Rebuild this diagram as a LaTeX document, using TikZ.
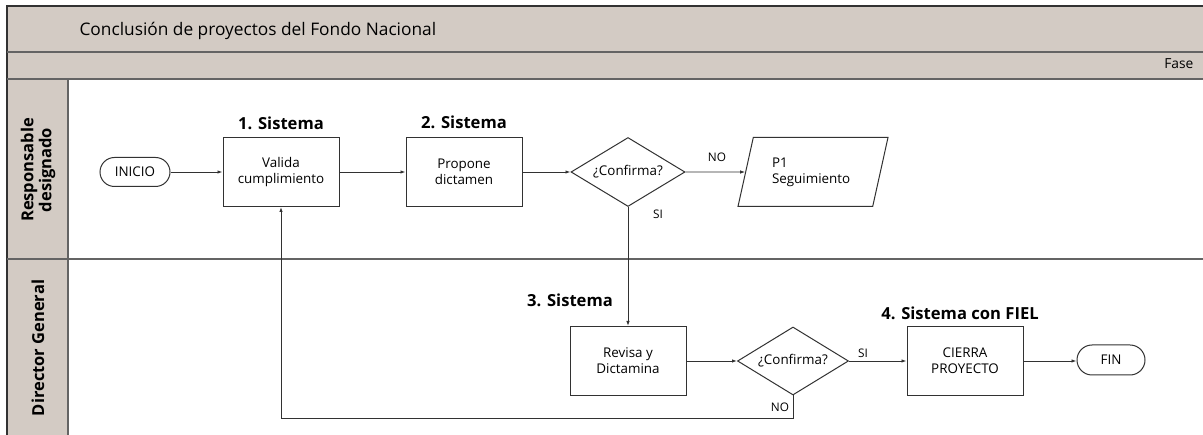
\documentclass[tikz,border=0pt]{standalone}
\usepackage{fontspec}
\setmainfont{Open Sans}
\usetikzlibrary{shapes.geometric,arrows.meta}
\definecolor{bandfill}{RGB}{211,203,196}
\definecolor{laneline}{RGB}{100,100,100}
\definecolor{flowline}{RGB}{50,50,50}

\begin{document}
\begin{tikzpicture}[x=1pt, y=-1pt,
  procbox/.style={draw=flowline, line width=1pt, minimum width=116pt, minimum height=69pt,
    align=center, inner sep=2pt, font=\fontsize{13.4}{16}\selectfont},
  decision/.style={diamond, draw=flowline, line width=1pt, aspect=1.65, minimum width=114pt,
    minimum height=69pt, inner sep=0pt, font=\fontsize{13.4}{16}\selectfont},
  terminal/.style={draw=flowline, line width=1pt, rounded corners=14.5pt, minimum width=70pt,
    minimum height=29pt, inner sep=2pt, font=\fontsize{13.4}{16}\selectfont},
  tasklabel/.style={font=\bfseries\fontsize{16.6}{19}\selectfont},
  edgelabel/.style={font=\fontsize{11.8}{14}\selectfont},
  flow/.style={draw=flowline, line width=0.9pt, -{Latex[length=5pt,width=3.5pt]}}]
\useasboundingbox (0,0) rectangle (1203,435);

% Bands and lanes
\fill[white] (0,0) rectangle (1203,435);
\fill[bandfill] (7,6) rectangle (1203,79);
\fill[bandfill] (7,79) rectangle (68,435);
\draw[line width=2pt, flowline] (7,435) -- (7,6) -- (1203,6);
\draw[line width=1.8pt, laneline] (7,52) -- (1203,52);
\draw[line width=1.8pt, laneline] (7,79) -- (1203,79);
\draw[line width=1.6pt, laneline] (68,79) -- (68,435);
\draw[line width=1.6pt, laneline] (7,259) -- (1203,259);
\node[anchor=west, font=\fontsize{17.3}{20}\selectfont] (title) at (76,31) {Conclusión de proyectos del Fondo Nacional};
\node[anchor=east, font=\fontsize{13.8}{16}\selectfont] (fase) at (1197,64) {Fase};
\node[rotate=90, align=center, font=\bfseries\fontsize{16.5}{18}\selectfont] (resp) at (38,170) {Responsable\\designado};
\node[rotate=90, font=\bfseries\fontsize{16.5}{18}\selectfont] (dirgen) at (38,348) {Director General};

% Lane 1
\node[terminal] (inicio) at (135,172) {INICIO};
\node[procbox] (valida) at (281,172) {Valida\\cumplimiento};
\node[procbox] (propone) at (464,172) {Propone\\dictamen};
\node[decision] (conf1) at (628,172) {¿Confirma?};
\node[trapezium, trapezium left angle=62, trapezium right angle=118, trapezium stretches body,
  draw=flowline, line width=1pt, minimum width=150pt, minimum height=69pt, inner sep=0pt,
  text width=82pt, align=left, font=\fontsize{13.4}{16}\selectfont] (p1) at (813,172) {P1\\Seguimiento};
\node[tasklabel] (lab1) at (281,123) {1. Sistema};
\node[tasklabel] (lab2) at (464,122) {2. Sistema};

% Lane 2
\node[procbox] (revisa) at (628,361) {Revisa y\\Dictamina};
\node[decision, minimum width=111pt, minimum height=68pt] (conf2) at (793,361) {¿Confirma?};
\node[procbox] (cierra) at (965,361) {CIERRA\\PROYECTO};
\node[terminal, minimum width=68pt, minimum height=30pt, rounded corners=15pt] (fin) at (1111,360) {FIN};
\node[tasklabel] (lab3) at (570,300) {3. Sistema};
\node[tasklabel] (lab4) at (960,313) {4. Sistema con FIEL};

% Connectors
\draw[flow] (inicio) -- (valida);
\draw[flow] (valida) -- (propone);
\draw[flow] (propone) -- (conf1);
\draw[flow] (conf1) -- (p1);
\draw[flow] (conf1.south) -- (revisa.north);
\draw[flow] (revisa) -- (conf2);
\draw[flow] (conf2) -- (cierra);
\draw[flow] (cierra.east) -- (fin.west |- cierra.east);
\draw[flow] (conf2.south) -- ++(0,23) -| (valida.south);
\node[edgelabel] (no1) at (717,157) {NO};
\node[edgelabel] (si1) at (658,214) {SI};
\node[edgelabel] (si2) at (863,353) {SI};
\node[edgelabel] (no2) at (780,407) {NO};
\end{tikzpicture}
\end{document}
